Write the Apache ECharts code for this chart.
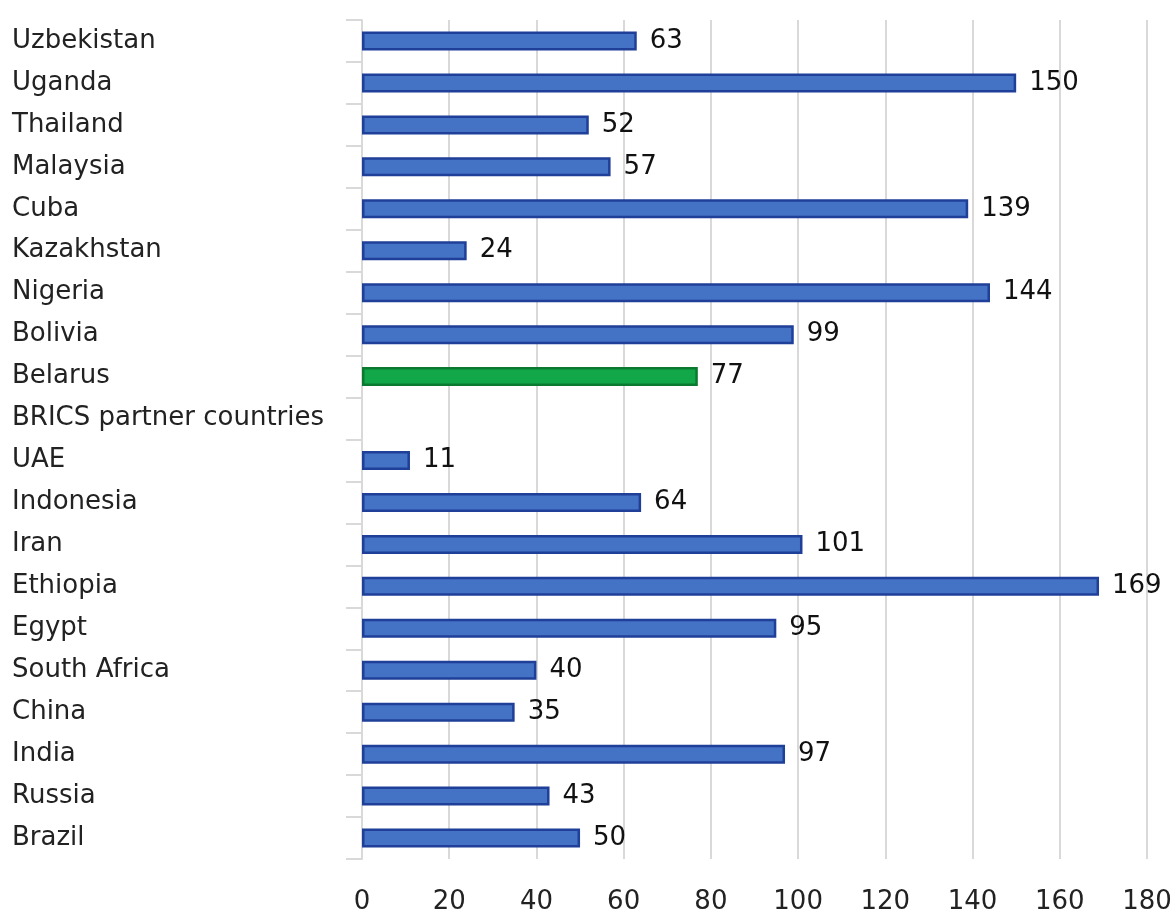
<!DOCTYPE html>
<html>
<head>
<meta charset="utf-8">
<script src="https://cdn.jsdelivr.net/npm/echarts@6/dist/echarts.min.js"></script>
<style>
  html, body { margin: 0; padding: 0; background: #fff; }
  #chart { width: 1176px; height: 915px; }
</style>
</head>
<body>
<div id="chart"></div>
<script>
// categories listed bottom to top
const countries = ['Brazil', 'Russia', 'India', 'China', 'South Africa', 'Egypt', 'Ethiopia', 'Iran',
  'Indonesia', 'UAE', 'BRICS partner countries', 'Belarus', 'Bolivia', 'Nigeria', 'Kazakhstan',
  'Cuba', 'Malaysia', 'Thailand', 'Uganda', 'Uzbekistan']
const values = [50, 43, 97, 35, 40, 95, 169, 101, 64, 11, null, 77, 99, 144, 24, 139, 57, 52, 150, 63]
const highlighted = ['Belarus']

const chart = echarts.init(document.getElementById('chart'))

const fontFamily = 'DejaVu Sans'

const barData = values.map((v, i) => {
  const isGreen = highlighted.includes(countries[i])
  return {
    value: v,
    itemStyle: isGreen
      ? { color: '#12a84a', borderColor: '#0b7a30', borderWidth: 2.5 }
      : { color: '#4472c4', borderColor: '#1f3f99', borderWidth: 2.5 }
  }
})

const option = {
  animation: false,
  grid: {
    left: 362,
    right: 29,
    top: 20,
    bottom: 55,
    containLabel: false
  },
  xAxis: {
    type: 'value',
    min: 0,
    max: 180,
    interval: 20,
    axisLine: { show: false },
    axisTick: { show: false },
    axisLabel: {
      color: '#222',
      fontSize: 26,
      fontFamily: fontFamily,
      margin: 30
    },
    splitLine: {
      lineStyle: { color: '#d9d9d9', width: 2 }
    }
  },
  yAxis: {
    type: 'category',
    data: countries,
    axisLine: {
      lineStyle: { color: '#d9d9d9', width: 2 }
    },
    axisTick: {
      show: true,
      length: 16,
      lineStyle: { color: '#d9d9d9', width: 2 }
    },
    axisLabel: {
      color: '#222',
      fontSize: 26,
      fontFamily: fontFamily,
      align: 'left',
      margin: 350
    }
  },
  series: [
    {
      type: 'bar',
      data: barData,
      barWidth: 19,
      label: {
        show: true,
        position: 'right',
        distance: 13,
        color: '#111',
        fontSize: 26,
        fontFamily: fontFamily
      }
    }
  ]
}

chart.setOption(option)
</script>
</body>
</html>
